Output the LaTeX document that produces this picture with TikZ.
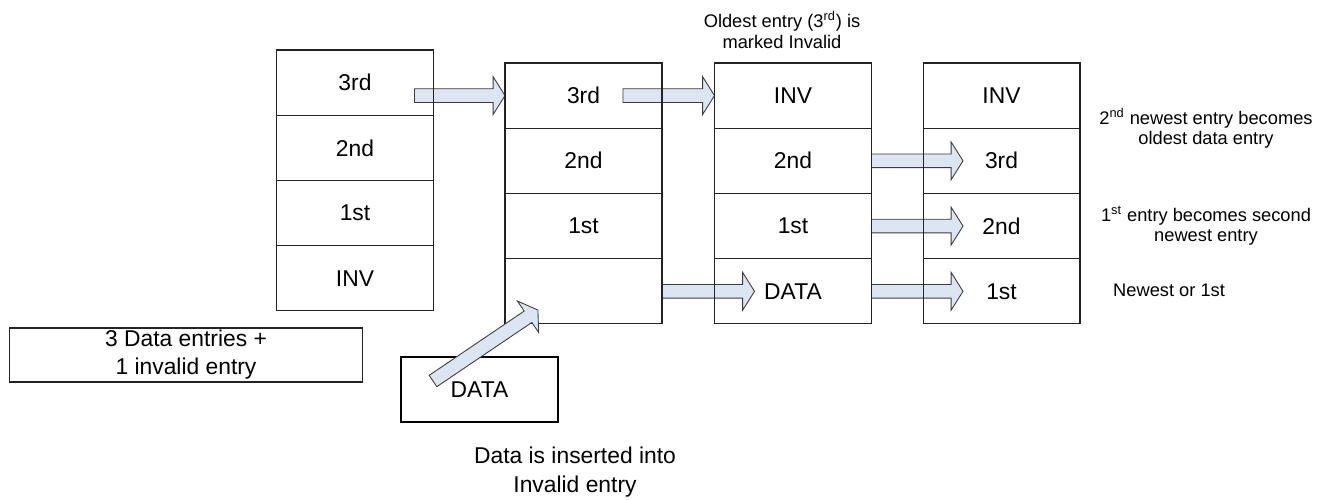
\documentclass[tikz,border=0pt]{standalone}
\usepackage{fontspec}
\setmainfont{Liberation Sans}
\usetikzlibrary{positioning,calc,backgrounds}
\definecolor{arrowfill}{RGB}{220,230,242}
\definecolor{arrowline}{RGB}{60,60,60}
\definecolor{boxline}{RGB}{35,35,35}
% block arrow from #1 to #2 (tip at #2)
\newcommand{\blockarrow}[2]{%
  \draw[blockarr] let \p1=($(#2)-(#1)$), \n1={atan2(\y1,\x1)}, \n2={veclen(\x1,\y1)} in
    [shift={(#1)},rotate=\n1] (0pt,-3.9pt) -- ({\n2*1pt-6.8pt},-3.9pt) -- ({\n2*1pt-6.8pt},-10.8pt)
    -- ({\n2*1pt},0pt) -- ({\n2*1pt-6.8pt},10.8pt) -- ({\n2*1pt-6.8pt},3.9pt) -- (0pt,3.9pt) -- cycle;}
\begin{document}
\begin{tikzpicture}[x=0.02cm,y=-0.02cm,
    cell/.style={draw=boxline,line width=0.6pt,outer sep=0pt,inner sep=0pt,
      minimum width=3.14cm,minimum height=1.305cm,font=\fontsize{13}{15}\selectfont},
    note/.style={align=center,font=\fontsize{10.4}{11.8}\selectfont},
    blockarr/.style={draw=arrowline,fill=arrowfill,line width=0.5pt,line join=miter}]
  \useasboundingbox (0,0) rectangle (1325,500);

  % before: 3 data entries + 1 invalid
  \node[cell] (a1) at (355,82.6) {3rd};
  \node[cell,below=0pt of a1] (a2) {2nd};
  \node[cell,below=0pt of a2] (a3) {1st};
  \node[cell,below=0pt of a3] (a4) {INV};

  % step 1
  \node[cell] (b1) at (583.5,95.6) {3rd};
  \node[cell,below=0pt of b1] (b2) {2nd};
  \node[cell,below=0pt of b2] (b3) {1st};
  \node[cell,below=0pt of b3] (b4) {};

  % step 2
  \node[cell] (c1) at (793,95.6) {INV};
  \node[cell,below=0pt of c1] (c2) {2nd};
  \node[cell,below=0pt of c2] (c3) {1st};
  \node[cell,below=0pt of c3] (c4) {DATA};

  % result
  \node[cell] (d1) at (1001.5,95.6) {INV};
  \node[cell,below=0pt of d1] (d2) {3rd};
  \node[cell,below=0pt of d2] (d3) {2nd};
  \node[cell,below=0pt of d3] (d4) {1st};

  \node[draw=boxline,line width=0.6pt,inner sep=0pt,minimum width=7.08cm,minimum height=1.08cm,
    align=center,font=\fontsize{13}{16}\selectfont] (summary) at (186,355) {3 Data entries +\\1 invalid entry};
  \node[draw=black,line width=1.4pt,inner sep=0pt,minimum width=3.14cm,minimum height=1.3cm,
    font=\fontsize{13}{15}\selectfont] (newdata) at (479.5,389.5) {DATA};

  \node[note] (oldest) at (782,30) {Oldest entry (3\textsuperscript{rd}) is\\marked Invalid};
  \node[note] (becomes3) at (1206,128.5) {2\textsuperscript{nd} newest entry becomes\\oldest data entry};
  \node[note] (becomes2) at (1206,226) {1\textsuperscript{st} entry becomes second\\newest entry};
  \node[note,anchor=west] (newest) at (1107,290) {Newest or 1st};
  \node[note,font=\fontsize{13}{16.5}\selectfont] (inserted) at (575,472.5) {Data is inserted into\\Invalid entry};

  % arrow ends
  \coordinate (s1) at ($(a1.east |- b1.west)+(-19,0)$);
  \coordinate (s2) at ($(b1.east)+(-39,0)$);
  \coordinate (t4) at ($(c4.west)+(40,0)$);
  \coordinate (u2) at ($(d2.west)+(40,0)$);
  \coordinate (u3) at ($(d3.west)+(40,0)$);
  \coordinate (u4) at ($(d4.west)+(40,0)$);
  \coordinate (dtail) at (433,381);
  \coordinate (dtip) at (538,310);

  \begin{scope}[on background layer]
    \blockarrow{s1}{b1.west}
    \blockarrow{s2}{c1.west}
    \blockarrow{b4.east}{t4}
    \blockarrow{c2.east}{u2}
    \blockarrow{c3.east}{u3}
    \blockarrow{c4.east}{u4}
  \end{scope}
  \blockarrow{dtail}{dtip}
\end{tikzpicture}
\end{document}
